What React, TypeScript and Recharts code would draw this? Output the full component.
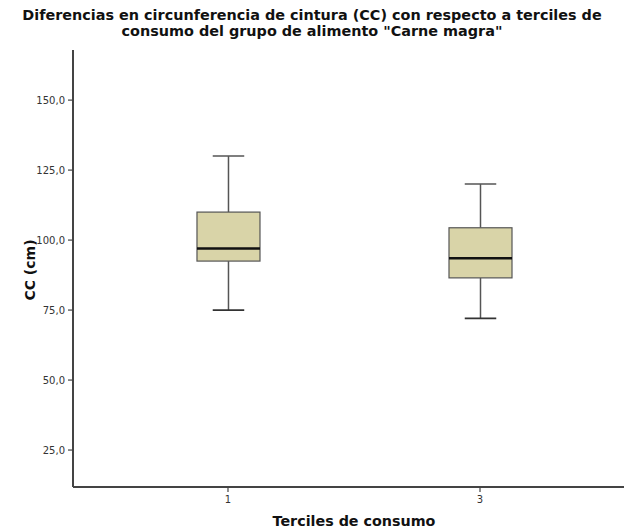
import React from "react";
import { ComposedChart, Bar, XAxis, YAxis } from "recharts";

// Waist circumference (cm) summary per consumption tercile of "Carne magra"
const terciles = [1, 3];
const whiskerLow = [75, 72];
const q1 = [92.5, 86.5];
const median = [97, 93.5];
const q3 = [110, 104.4];
const whiskerHigh = [130, 120];

const yTicks = [25, 50, 75, 100, 125, 150];
const xTicks = [1, 3];

const data = terciles.map((t, i) => ({
  tercil: t,
  range: [whiskerLow[i], whiskerHigh[i]],
  low: whiskerLow[i],
  q1: q1[i],
  median: median[i],
  q3: q3[i],
  high: whiskerHigh[i],
}));

const FONT = '"DejaVu Sans", Verdana, sans-serif';
const BOX_FILL = "#D9D4A8";
const LINE = "#555555";

// Draws whiskers, caps, box and median inside the pixel span of the ranged bar
function BoxShape(props: any) {
  const { x, y, width, height } = props;
  const p = props.payload ?? props;
  const top = Math.min(y, y + height);
  const h = Math.abs(height);
  const span = p.high - p.low;
  const py = (v: number) => top + ((p.high - v) / span) * h;
  const cx = x + width / 2;
  const capHalf = width / 4;
  const yHigh = py(p.high);
  const yLow = py(p.low);
  const yQ1 = py(p.q1);
  const yQ3 = py(p.q3);
  const yMed = py(p.median);
  return (
    <g>
      <line x1={cx} x2={cx} y1={yHigh} y2={yQ3} stroke={LINE} strokeWidth={1.5} />
      <line x1={cx} x2={cx} y1={yQ1} y2={yLow} stroke={LINE} strokeWidth={1.5} />
      <line x1={cx - capHalf} x2={cx + capHalf} y1={yHigh} y2={yHigh} stroke={LINE} strokeWidth={1.5} />
      <line x1={cx - capHalf} x2={cx + capHalf} y1={yLow} y2={yLow} stroke="#333" strokeWidth={1.8} />
      <rect x={x} y={yQ3} width={width} height={yQ1 - yQ3} fill={BOX_FILL} stroke={LINE} strokeWidth={1.2} />
      <line x1={x} x2={x + width} y1={yMed} y2={yMed} stroke="#111" strokeWidth={2.5} />
    </g>
  );
}

const fmt = (v: number) => v.toFixed(1).replace(".", ",");

const titleLine: React.CSSProperties = {
  position: "absolute",
  left: 0,
  width: 624,
  textAlign: "center",
  fontFamily: FONT,
  fontWeight: "bold",
  fontSize: 14.4,
  lineHeight: "16px",
  whiteSpace: "nowrap",
  color: "#111",
};

export default function App() {
  return (
    <div
      style={{
        position: "absolute",
        left: 0,
        top: 0,
        width: 624,
        height: 531,
        overflow: "hidden",
        background: "#fff",
      }}
    >
      <div style={{ ...titleLine, top: 7 }}>
        Diferencias en circunferencia de cintura (CC) con respecto a terciles de
      </div>
      <div style={{ ...titleLine, top: 23 }}>
        consumo del grupo de alimento "Carne magra"
      </div>
      <div style={{ position: "absolute", left: 0, top: 0 }}>
        <ComposedChart
          width={640}
          height={531}
          data={data}
          margin={{ top: 50, right: 5, bottom: 14, left: 13 }}
        >
          <XAxis
            xAxisId="top"
            orientation="top"
            type="number"
            dataKey="tercil"
            domain={[-0.23, 4.23]}
            tick={false}
            tickLine={false}
            height={0}
            axisLine={{ stroke: "#222", strokeWidth: 1.2 }}
          />
          <XAxis
            type="number"
            dataKey="tercil"
            domain={[-0.23, 4.23]}
            ticks={xTicks}
            height={30}
            tickSize={5}
            tickMargin={4}
            axisLine={{ stroke: "#444", strokeWidth: 2 }}
            tickLine={{ stroke: "#444", strokeWidth: 1.2 }}
            tick={{ fontSize: 10, fill: "#333", fontFamily: FONT }}
          />
          <YAxis
            type="number"
            domain={[11.8, 167.9]}
            ticks={yTicks}
            width={60}
            tickSize={5}
            tickMargin={3}
            tickFormatter={fmt}
            axisLine={{ stroke: "#444", strokeWidth: 2 }}
            tickLine={{ stroke: "#444", strokeWidth: 1.2 }}
            tick={{ fontSize: 10, fill: "#333", fontFamily: FONT }}
          />
          <Bar dataKey="range" barSize={63} shape={BoxShape} isAnimationActive={false} />
        </ComposedChart>
      </div>
      <div
        style={{
          position: "absolute",
          left: 30,
          top: 270,
          transform: "translate(-50%, -50%) rotate(-90deg)",
          whiteSpace: "nowrap",
          fontFamily: FONT,
          fontWeight: "bold",
          fontSize: 14,
          color: "#111",
        }}
      >
        CC (cm)
      </div>
      <div
        style={{
          position: "absolute",
          left: 354,
          top: 521,
          transform: "translate(-50%, -50%)",
          whiteSpace: "nowrap",
          fontFamily: FONT,
          fontWeight: "bold",
          fontSize: 14.3,
          color: "#111",
        }}
      >
        Terciles de consumo
      </div>
    </div>
  );
}
